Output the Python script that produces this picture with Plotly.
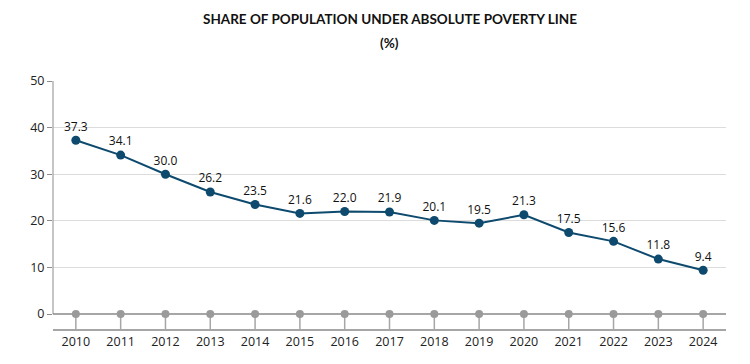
import plotly.graph_objects as go

years = list(range(2010, 2025))
share = [37.3, 34.1, 30.0, 26.2, 23.5, 21.6, 22.0, 21.9, 20.1, 19.5, 21.3, 17.5, 15.6, 11.8, 9.4]
y_ticks = [0, 10, 20, 30, 40, 50]

BLUE = "#0d4a6e"
GRAY = "#a6a6a6"
STEM = 3.2

fig = go.Figure()

# gray baseline markers with stems
fig.add_trace(go.Scatter(
    x=years, y=[0] * len(years), mode="markers",
    marker=dict(color="#9a9a9a", size=8),
    error_y=dict(type="data", symmetric=False, array=[0] * len(years),
                 arrayminus=[STEM] * len(years), color=GRAY, thickness=1.5, width=0),
    hoverinfo="skip", showlegend=False, cliponaxis=False,
))

fig.add_trace(go.Scatter(
    x=years, y=share, mode="lines+markers+text",
    line=dict(color=BLUE, width=2),
    marker=dict(color=BLUE, size=9),
    text=share, texttemplate="%{y:.1f}", textposition="top center",
    textfont=dict(family="Open Sans", size=12, color="#111"),
    showlegend=False, cliponaxis=False,
))

# y axis line from 0 to 50
fig.add_shape(type="line", xref="paper", yref="y", x0=0, x1=0, y0=0, y1=50,
              line=dict(color="#8c8c8c", width=1))

fig.add_annotation(text="<b>SHARE OF POPULATION UNDER ABSOLUTE POVERTY LINE</b>",
                   xref="paper", yref="paper", x=0.5, y=1, yshift=62, showarrow=False,
                   xanchor="center", yanchor="middle",
                   font=dict(family="Lato", size=13.5, color="#111"))
fig.add_annotation(text="<b>(%)</b>",
                   xref="paper", yref="paper", x=0.5, y=1, yshift=38, showarrow=False,
                   xanchor="center", yanchor="middle",
                   font=dict(family="Lato", size=13.5, color="#111"))

fig.update_layout(
    width=750, height=364,
    margin=dict(l=53, r=24, t=81, b=35),
    paper_bgcolor="white", plot_bgcolor="white",
    font=dict(family="Open Sans", size=12, color="#333"),
)
fig.update_xaxes(
    range=[2009.49, 2024.51], tickvals=years, ticktext=[str(y) for y in years],
    showgrid=False, zeroline=False, showline=True, linecolor=GRAY, linewidth=1.5,
    ticks="", tickfont=dict(size=12.5, color="#222"),
)
fig.update_yaxes(
    range=[-STEM, 50], tickvals=y_ticks, showgrid=True, gridcolor="#dcdcdc", gridwidth=1,
    zeroline=True, zerolinecolor=GRAY, zerolinewidth=2, showline=False,
    ticks="outside", ticklen=5, tickcolor="#8c8c8c", tickfont=dict(size=12.5, color="#222"),
)

fig.write_html("out.html", config={"displayModeBar": False},
               post_script="document.body.style.margin='0';")
